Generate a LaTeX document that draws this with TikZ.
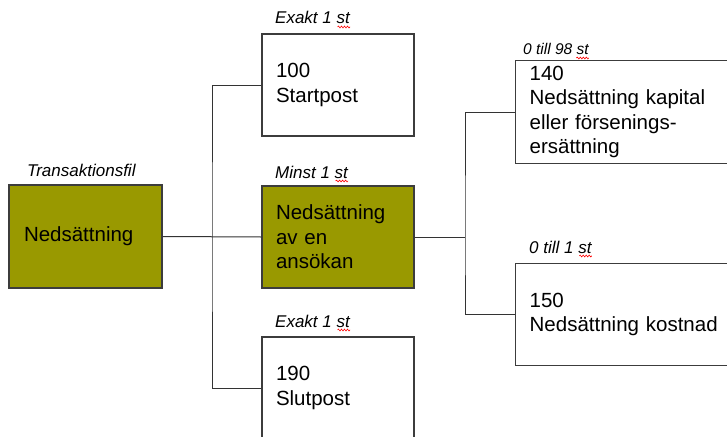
\documentclass[tikz,border=0pt]{standalone}
\usepackage{fontspec}
\setmainfont{Liberation Sans}
\usetikzlibrary{decorations.pathmorphing}
\definecolor{olivebox}{RGB}{153,153,0}
\definecolor{boxline}{RGB}{60,60,60}
\begin{document}
\begin{tikzpicture}[x=1pt,y=-1pt,
    postbox/.style={draw=boxline,line width=1.3pt,align=left,inner xsep=14pt,inner ysep=0pt,
      text width=#1,font=\fontsize{20.5}{24.5}\selectfont},
    postbox/.default=124pt,
    lbl/.style={anchor=base west,inner sep=0pt,font=\fontsize{17}{20}\selectfont\itshape},
    link/.style={draw=black!80,line width=1pt},
    wavy/.style={red,line width=0.6pt,decorate,decoration={snake,segment length=3pt,amplitude=0.9pt}}]
  \useasboundingbox (0,0) rectangle (727,436);
  \clip (0,0) rectangle (727,436);
  % boxes
  \node[postbox,fill=olivebox,inner xsep=15pt,text width=123pt,minimum height=103pt] (file) at (85.5,236.5) {Nedsättning};
  \node[postbox,minimum height=102pt] (start) at (338,85) {100\\Startpost};
  \node[postbox,fill=olivebox,minimum height=102pt] (ansok) at (338,237) {Nedsättning\\av en\\ansökan};
  \node[postbox,minimum height=102pt] (slut) at (338,388) {190\\Slutpost};
  \node[postbox=212pt,anchor=north west,minimum height=103pt] (kap) at (515,60) {140\\Nedsättning kapital\\eller försenings-\\ersättning};
  \node[postbox=212pt,anchor=north west,minimum height=102pt] (kost) at (515,263) {150\\Nedsättning kostnad};
  % labels
  \node[lbl] (lfile) at (27,176) {Transaktionsfil};
  \node[lbl] (lstart) at (275,24) {Exakt 1 st};
  \node[lbl] (lansok) at (275,178) {Minst 1 st};
  \node[lbl] (lslut) at (275,327) {Exakt 1 st};
  \node[lbl,font=\fontsize{15.5}{18}\selectfont\itshape] (lkap) at (523,55) {0 till 98 st};
  \node[lbl] (lkost) at (529,253) {0 till 1 st};
  \foreach \l in {lstart,lansok,lslut,lkap,lkost}
    \draw[wavy] ([xshift=-12.5pt,yshift=-3pt]\l.base east) -- ([yshift=-3pt]\l.base east);
  % connectors
  \coordinate (jleft) at (212,237);
  \coordinate (jright) at (465,237);
  \draw[link] (file.east) -- (ansok.west);
  \draw[link] (start.west) -| (jleft) |- (slut.west);
  \draw[link] (ansok.east) -- (jright);
  \draw[link] (kap.west) -| (jright) |- (kost.west);
\end{tikzpicture}
\end{document}
